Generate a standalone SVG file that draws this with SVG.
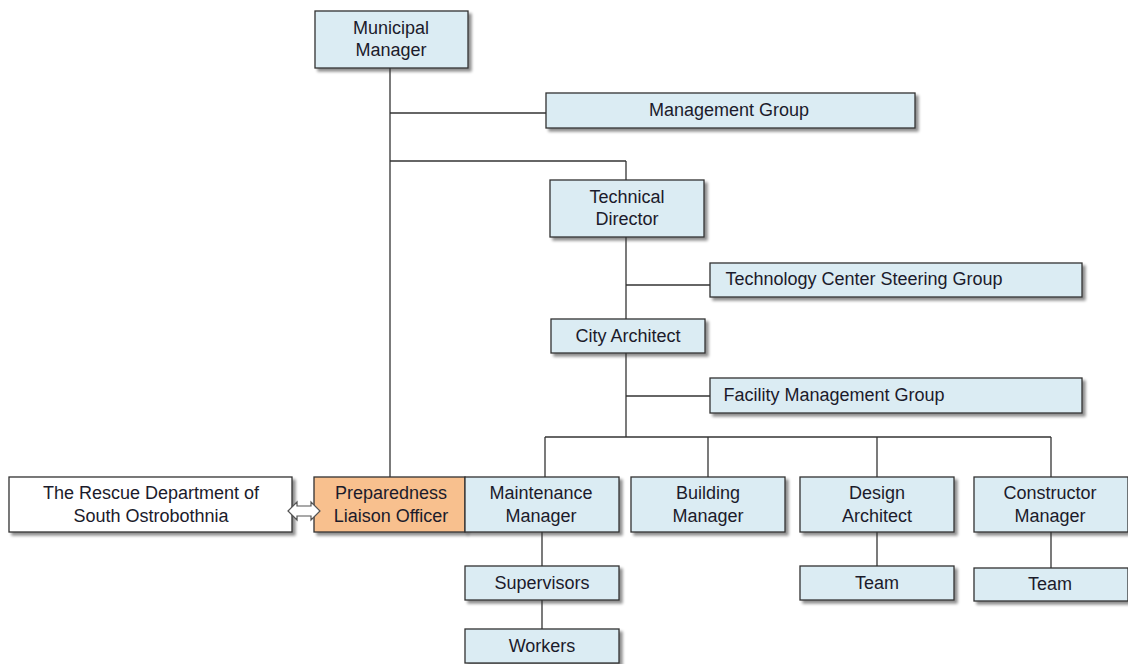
<svg xmlns="http://www.w3.org/2000/svg" width="1128" height="664" viewBox="0 0 1128 664">
<defs>
<filter id="sh" x="-10%" y="-20%" width="130%" height="160%">
<feGaussianBlur in="SourceAlpha" stdDeviation="1.5"/>
<feOffset dx="3" dy="3" result="b"/>
<feComponentTransfer><feFuncA type="linear" slope="0.45"/></feComponentTransfer>
<feMerge><feMergeNode/><feMergeNode in="SourceGraphic"/></feMerge>
</filter>
</defs>
<style>
.n rect{fill:#dbecf3;stroke:#333;stroke-width:1.3;filter:url(#sh)}
.o rect{fill:#f8c08e}
.w rect{fill:#fff}
text{font-family:"Liberation Sans",Arial,sans-serif;font-size:18px;fill:#1b1b2b;text-anchor:middle}
.c line{stroke:#333;stroke-width:1.3}
</style>
<rect width="1128" height="664" fill="#fff"/>
<g class="n" id="municipal-manager"><rect x="315" y="11" width="153" height="57"/><text x="391" y="34">Municipal</text><text x="391" y="56">Manager</text></g>
<g class="n" id="management-group"><rect x="546" y="93" width="369" height="35"/><text x="729" y="116">Management Group</text></g>
<g class="n" id="technical-director"><rect x="550" y="180" width="154" height="57"/><text x="627" y="203">Technical</text><text x="627" y="225">Director</text></g>
<g class="n" id="tech-center-steering"><rect x="710" y="263" width="372" height="34"/><text x="864" y="285">Technology Center Steering Group</text></g>
<g class="n" id="city-architect"><rect x="551" y="319" width="154" height="34"/><text x="628" y="342">City Architect</text></g>
<g class="n" id="facility-management"><rect x="710" y="378" width="372" height="35"/><text x="834" y="401">Facility Management Group</text></g>
<g class="n w" id="rescue-department"><rect x="9" y="477" width="283" height="55"/><text x="151" y="499">The Rescue Department of</text><text x="151" y="522">South Ostrobothnia</text></g>
<g class="n o" id="preparedness-officer"><rect x="314" y="477" width="151" height="55"/><text x="391" y="499">Preparedness</text><text x="391" y="522">Liaison Officer</text></g>
<g class="n" id="maintenance-manager"><rect x="465" y="477" width="154" height="55"/><text x="541" y="499">Maintenance</text><text x="541" y="522">Manager</text></g>
<g class="n" id="building-manager"><rect x="631" y="477" width="154" height="55"/><text x="708" y="499">Building</text><text x="708" y="522">Manager</text></g>
<g class="n" id="design-architect"><rect x="800" y="477" width="154" height="55"/><text x="877" y="499">Design</text><text x="877" y="522">Architect</text></g>
<g class="n" id="constructor-manager"><rect x="974" y="477" width="154" height="55"/><text x="1050" y="499">Constructor</text><text x="1050" y="522">Manager</text></g>
<g class="n" id="supervisors"><rect x="465" y="566" width="154" height="34"/><text x="542" y="589">Supervisors</text></g>
<g class="n" id="workers"><rect x="465" y="629" width="154" height="34"/><text x="542" y="652">Workers</text></g>
<g class="n" id="team-design"><rect x="800" y="566" width="154" height="34"/><text x="877" y="589">Team</text></g>
<g class="n" id="team-constructor"><rect x="974" y="568" width="154" height="33"/><text x="1050" y="590">Team</text></g>
<g class="c" id="connectors">
<line x1="390" y1="68" x2="390" y2="477"/>
<line x1="390" y1="113" x2="546" y2="113"/>
<line x1="390" y1="161" x2="626" y2="161"/>
<line x1="626" y1="161" x2="626" y2="180"/>
<line x1="626" y1="237" x2="626" y2="319"/>
<line x1="626" y1="353" x2="626" y2="437"/>
<line x1="626" y1="285" x2="710" y2="285"/>
<line x1="626" y1="396" x2="710" y2="396"/>
<line x1="545" y1="437" x2="1051" y2="437"/>
<line x1="545" y1="437" x2="545" y2="477"/>
<line x1="708" y1="437" x2="708" y2="477"/>
<line x1="877" y1="437" x2="877" y2="477"/>
<line x1="1051" y1="437" x2="1051" y2="477"/>
<line x1="542" y1="532" x2="542" y2="566"/>
<line x1="542" y1="600" x2="542" y2="629"/>
<line x1="877" y1="532" x2="877" y2="566"/>
<line x1="1051" y1="532" x2="1051" y2="568"/>
<path d="M288,511 L297,502 L297,506 L311,506 L311,502 L320,511 L311,520 L311,516 L297,516 L297,520 Z" fill="#fff" stroke="#555" stroke-width="1.2"/>
</g>
</svg>
